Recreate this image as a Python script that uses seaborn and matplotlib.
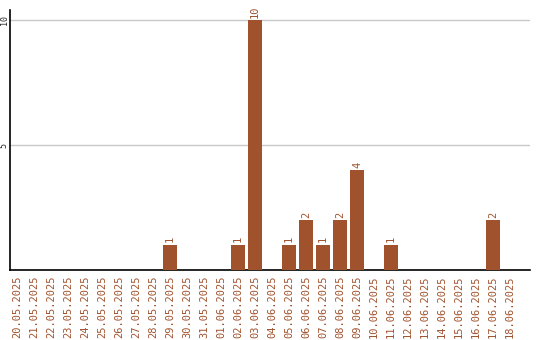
import matplotlib
matplotlib.use("Agg")
import matplotlib.pyplot as plt
import seaborn as sns
import pandas as pd

dates = ["20.05.2025", "21.05.2025", "22.05.2025", "23.05.2025", "24.05.2025",
         "25.05.2025", "26.05.2025", "27.05.2025", "28.05.2025", "29.05.2025",
         "30.05.2025", "31.05.2025", "01.06.2025", "02.06.2025", "03.06.2025",
         "04.06.2025", "05.06.2025", "06.06.2025", "07.06.2025", "08.06.2025",
         "09.06.2025", "10.06.2025", "11.06.2025", "12.06.2025", "13.06.2025",
         "14.06.2025", "15.06.2025", "16.06.2025", "17.06.2025", "18.06.2025"]
counts = [0, 0, 0, 0, 0, 0, 0, 0, 0, 1,
          0, 0, 0, 1, 10, 0, 1, 2, 1, 2,
          4, 0, 1, 0, 0, 0, 0, 0, 2, 0]
yticks = [5, 10]

color = "#A0522D"
sns.set_theme(style="white")
plt.rcParams['font.family'] = ['DejaVu Sans Mono', 'DejaVu Sans']

df = pd.DataFrame({"date": dates, "count": counts})
fig = plt.figure(figsize=(5.4, 3.4), dpi=100)
ax = fig.add_axes([10/540, 70/340, 520/540, 260/340])
sns.barplot(data=df, x="date", y="count", color=color, width=0.82,
            saturation=1, ax=ax, zorder=3, linewidth=0, edgecolor="none")
ax.set_ylim(0, 10.4)
ax.set_xlim(-7/17, 29 + 20/17)
ax.set_yticks(yticks)
ax.set_yticklabels([str(v) for v in yticks], rotation=90, fontsize=6, va="center")
ax.yaxis.grid(True, color="#c8c8c8", linewidth=1, zorder=0)
ax.tick_params(axis="y", length=0, pad=1)
ax.tick_params(axis="x", length=0, pad=4, labelsize=7.5, labelcolor=color, rotation=90)
ax.set_xlabel("")
ax.set_ylabel("")
for s in ["top", "right"]:
    ax.spines[s].set_visible(False)
for s in ["left", "bottom"]:
    ax.spines[s].set_color("black")
    ax.spines[s].set_linewidth(1.2)
for i, v in enumerate(counts):
    if v > 0:
        ax.text(i, v + 0.1, str(v), rotation=90, ha="center", va="bottom",
                fontsize=7.5, color=color)
fig.savefig("out.png", dpi=100)
